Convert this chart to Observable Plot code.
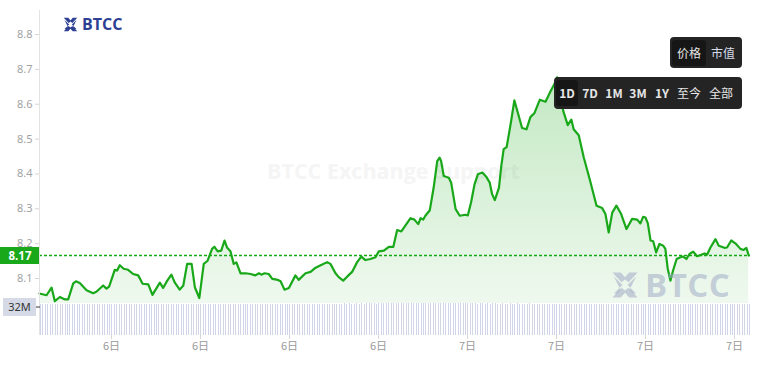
<!DOCTYPE html>
<html>
<head>
<meta charset="utf-8">
<script src="https://cdn.jsdelivr.net/npm/d3@7"></script>
<script src="https://cdn.jsdelivr.net/npm/@observablehq/plot@0.6"></script>
<style>
  html, body { margin: 0; padding: 0; background: #fff; }
  #wrap { position: relative; width: 764px; height: 368px; overflow: hidden; font-family: "Noto Sans", "Noto Sans CJK SC", sans-serif; }
  #wrap svg.layer { position: absolute; left: 0; top: 0; }
  .wm { position: absolute; left: 267px; top: 156px; font: bold 21.5px "Open Sans", sans-serif; color: #f5f5f5; white-space: nowrap; }
  .box { position: absolute; background: #242424; border-radius: 4px; display: flex; align-items: center; padding: 0 2px; box-sizing: border-box; }
  .box span { display: inline-block; color: #e6e6e6; font-size: 12px; text-align: center; line-height: 26px; border-radius: 3px; font-family: "Noto Sans CJK SC", "Noto Sans", sans-serif; }
  .box span.on { background: #161616; }
  .logo { position: absolute; display: flex; align-items: center; font-family: "Open Sans", sans-serif; font-weight: 700; }
</style>
</head>
<body>
<div id="wrap">
  <div class="wm">BTCC Exchange Support</div>
</div>
<script>
// ---- data (hours since 6日 00:00, price) ----
const hours = [9.57,9.81,9.98,10.09,10.26,10.43,10.54,10.71,10.80,10.93,11.16,11.27,11.38,11.49,11.72,11.83,11.92,12.11,12.19,12.28,12.41,12.56,12.73,12.90,13.05,13.24,13.38,13.63,13.74,13.88,14.02,14.13,14.30,14.42,14.55,14.70,14.81,14.96,15.11,15.24,15.39,15.47,15.58,15.70,15.81,15.90,16.01,16.12,16.21,16.35,16.52,16.69,16.85,16.97,17.05,17.16,17.30,17.42,17.61,17.70,17.83,17.98,18.20,18.31,18.54,18.71,18.88,19.05,19.27,19.38,19.55,19.66,19.81,19.95,20.11,20.28,20.42,20.56,20.73,20.90,21.01,21.18,21.35,21.50,21.63,21.77,21.94,22.08,22.21,22.34,22.42,22.51,22.58,22.73,22.86,22.98,23.06,23.11,23.20,23.37,23.45,23.60,23.74,23.93,24.01,24.12,24.24,24.35,24.50,24.64,24.75,24.83,24.92,25.06,25.14,25.22,25.32,25.47,25.58,25.70,25.84,25.99,26.12,26.26,26.44,26.63,26.80,26.93,27.02,27.23,27.38,27.50,27.58,27.75,27.92,28.12,28.35,28.54,28.65,28.76,28.88,29.02,29.18,29.36,29.55,29.72,29.83,29.92,30.00,30.08,30.17,30.26,30.36,30.47,30.60,30.67,30.75,30.84,30.93,31.05,31.18,31.27,31.38,31.49,31.61,31.74,31.88,31.99,32.08,32.19,32.36,32.47,32.66,32.75,32.89,33.03,33.20,33.31,33.40,33.48];
const prices = [8.057,8.052,8.074,8.035,8.047,8.040,8.040,8.086,8.092,8.087,8.066,8.062,8.058,8.062,8.080,8.071,8.077,8.125,8.123,8.138,8.128,8.125,8.113,8.109,8.085,8.083,8.053,8.088,8.073,8.094,8.111,8.089,8.068,8.080,8.142,8.142,8.075,8.044,8.142,8.151,8.185,8.191,8.178,8.180,8.209,8.188,8.178,8.142,8.146,8.115,8.115,8.113,8.109,8.115,8.111,8.115,8.113,8.099,8.096,8.092,8.068,8.073,8.109,8.096,8.115,8.119,8.131,8.138,8.147,8.142,8.115,8.104,8.094,8.106,8.119,8.147,8.163,8.153,8.156,8.161,8.178,8.180,8.191,8.191,8.239,8.235,8.256,8.273,8.269,8.256,8.273,8.269,8.280,8.296,8.361,8.437,8.447,8.437,8.394,8.389,8.375,8.299,8.280,8.283,8.281,8.318,8.371,8.399,8.404,8.391,8.375,8.342,8.325,8.360,8.423,8.471,8.477,8.551,8.611,8.575,8.532,8.528,8.563,8.575,8.613,8.607,8.637,8.658,8.677,8.580,8.540,8.556,8.528,8.511,8.447,8.385,8.309,8.302,8.285,8.232,8.289,8.309,8.285,8.242,8.271,8.269,8.258,8.277,8.275,8.258,8.209,8.207,8.175,8.199,8.194,8.185,8.128,8.094,8.123,8.156,8.161,8.163,8.156,8.171,8.177,8.164,8.168,8.172,8.169,8.189,8.213,8.194,8.188,8.189,8.209,8.201,8.185,8.182,8.188,8.166];
// 5-minute volumes (millions)
const volumes = [
35.2,35.4,35.1,35.6,35.3,35.0,35.5,35.2,35.4,35.6,35.1,35.3,
35.0,35.4,35.2,35.5,35.3,35.1,35.6,35.2,35.0,35.4,35.3,35.5,
35.2,35.1,35.4,35.6,35.3,35.2,35.0,35.4,35.5,35.1,35.3,35.2,
35.4,35.6,35.2,35.1,35.3,35.5,35.0,35.2,35.4,35.3,35.6,35.1,
35.3,35.2,35.5,35.4,35.1,35.0,35.3,35.6,35.2,35.4,35.1,35.3,
35.5,35.2,35.0,35.3,35.4,35.6,35.1,35.2,35.5,35.3,35.4,35.2,
35.1,35.3,35.6,35.4,35.2,35.0,35.5,35.3,35.1,35.4,35.2,35.6,
35.3,35.5,35.2,35.1,35.4,35.3,35.0,35.6,35.2,35.5,35.3,35.4,
35.2,35.4,35.1,35.3,35.6,35.5,35.2,35.0,35.4,35.3,35.1,35.5,
35.6,35.3,35.4,35.2,35.1,35.5,35.3,35.6,35.2,35.4,35.0,35.3,
35.8,36.0,35.7,36.1,35.9,36.2,35.8,36.0,36.3,35.9,36.1,36.0,
36.2,36.4,36.1,36.3,36.0,36.5,36.2,36.4,36.1,36.3,36.5,36.2,
36.4,36.3,36.5,36.2,36.6,36.4,36.3,36.5,36.1,36.4,36.6,36.3,
36.5,36.2,36.4,36.6,36.3,36.5,36.2,36.4,36.6,36.3,36.1,36.4,
36.3,36.5,36.2,36.4,36.1,36.3,36.5,36.2,36.4,36.0,36.3,36.1,
36.0,36.2,35.9,36.1,36.3,36.0,35.8,36.2,36.0,35.9,36.1,35.8,
35.9,36.1,35.8,36.0,35.7,35.9,36.1,35.8,36.0,35.9,35.7,36.0,
35.8,35.6,35.9,35.7,36.0,35.8,35.6,35.9,35.7,35.8,36.0,35.6,
35.7,35.9,35.6,35.8,35.5,35.7,35.9,35.6,35.8,35.7,35.5,35.8,
35.6,35.8,35.5,35.7,35.9,35.6,35.4,35.7,35.6,35.8,35.5,35.7,
35.5,35.7,35.4,35.6,35.8,35.5,35.3,35.6,35.5,35.7,35.4,35.6,
35.4,35.6,35.3,35.5,35.7,35.4,35.2,35.5,35.4,35.6,35.3,35.5,
35.3,35.5,35.2,35.4,35.6,35.3,35.1,35.4,35.3,35.5,35.2,35.4,
35.2,35.4,35.1,35.3,35.5,35.2,35.0,35.3,35.2,35.4,35.1,35.3
];
const tickHours = [12, 15, 18, 21, 24, 27, 30, 33];
const tickLabels = ["6日","6日","6日","6日","7日","7日","7日","7日"];
const priceTicks = [8.1, 8.2, 8.3, 8.4, 8.5, 8.6, 8.7, 8.8];
const lastPrice = prices[prices.length - 1];
const volumeTickValue = 32;
const volumeTickLabel = "32M";
const rangeButtons = ["1D","7D","1M","3M","1Y","至今","全部"];
const modeButtons = ["价格","市值"];

const startHour = 9.573, endHour = 33.54, firstVolHour = 9.6;
const yMin = 8.0283, yMax = 8.8689;
const n = Math.min(hours.length, prices.length);
const series = d3.range(n).map(i => ({t: hours[i], p: prices[i]}));
const vols = volumes.map((v, i) => ({t: firstVolHour + i / 12, v}));

const GREEN = "#19a819";
const W = 764, H = 368;
const xScale = {domain: [startHour, endHour], range: [39, 750]};

const wrap = document.getElementById("wrap");

// --- volume layer (bottom) ---
const vplot = Plot.plot({
  width: W, height: H,
  marginTop: 10, marginBottom: 33, marginLeft: 39, marginRight: 14,
  style: {background: "transparent", fontFamily: "'Noto Sans CJK SC', 'Noto Sans', sans-serif", fontSize: "11px", color: "#9a9a9a"},
  x: xScale,
  y: {domain: [0, 36.6], range: [335, 303]},
  marks: [
    Plot.ruleX(vols, {x: "t", y1: 0, y2: "v", stroke: "#d0d5e7", strokeWidth: 1, shapeRendering: "crispEdges"}),
    Plot.axisX({ticks: tickHours, tickFormat: (d, i) => tickLabels[i], tickSize: 4, tickPadding: 3, stroke: "#d8d8d8", fill: "#9a9a9a", anchor: "bottom", label: null}),
    Plot.axisY({ticks: [], tickSize: 0, anchor: "left", label: null})
  ]
});
vplot.classList.add("layer");
wrap.appendChild(vplot);

// --- price layer ---
const gradient = () => {
  const defs = d3.create("svg:defs");
  const g = defs.append("linearGradient").attr("id", "pgrad")
    .attr("x1", 0).attr("x2", 0).attr("y1", 0).attr("y2", 1);
  g.append("stop").attr("offset", "0%").attr("stop-color", GREEN).attr("stop-opacity", 0.26);
  g.append("stop").attr("offset", "100%").attr("stop-color", GREEN).attr("stop-opacity", 0.07);
  return defs.node();
};

const plot = Plot.plot({
  width: W, height: H,
  marginTop: 10, marginBottom: 33, marginLeft: 39, marginRight: 14,
  style: {background: "transparent", fontFamily: "'Noto Sans', sans-serif", fontSize: "11px", color: "#a0a0a0"},
  x: xScale,
  y: {domain: [yMin, yMax], range: [303, 10]},
  marks: [
    gradient,
    Plot.areaY(series, {x: "t", y1: () => yMin, y2: "p", fill: "url(#pgrad)"}),
    Plot.ruleY([lastPrice], {stroke: "#14a814", strokeWidth: 1.4, strokeDasharray: "3,2"}),
    Plot.line(series, {x: "t", y: "p", stroke: GREEN, strokeWidth: 2.2, strokeLinejoin: "round"}),
    Plot.ruleX([startHour], {stroke: "#e3e3e3", strokeWidth: 1}),
    Plot.axisY({ticks: priceTicks, tickFormat: d => d.toFixed(1), tickSize: 4, tickPadding: 3, stroke: "#d6d6d6", fill: "#a3a3a3", anchor: "left", label: null}),
    Plot.axisX({ticks: [], tickSize: 0, label: null})
  ]
});
plot.classList.add("layer");
wrap.appendChild(plot);

// price / volume labels placed with the plots' scales
const ys = plot.scale("y");
const yv = vplot.scale("y");
const lab = d3.select(plot).append("g");
const yp = ys.apply(lastPrice);
lab.append("rect").attr("x", 0).attr("y", yp - 8).attr("width", 39).attr("height", 17).attr("fill", GREEN);
lab.append("text").attr("x", 20).attr("y", yp + 0.5).attr("dy", "0.35em").attr("text-anchor", "middle")
  .attr("fill", "#fff").attr("font-weight", "bold").attr("font-size", 11.5).attr("font-family", "'Noto Sans', sans-serif").text(lastPrice.toFixed(2));
const yvol = yv.apply(volumeTickValue);
lab.append("rect").attr("x", 3).attr("y", yvol - 9).attr("width", 33).attr("height", 18).attr("fill", "#d6dae6");
lab.append("text").attr("x", 19.5).attr("y", yvol).attr("dy", "0.35em").attr("text-anchor", "middle")
  .attr("fill", "#333").attr("font-size", 11).attr("font-family", "'Noto Sans', sans-serif").text(volumeTickLabel);
lab.append("line").attr("x1", 36).attr("x2", 40).attr("y1", yvol).attr("y2", yvol).attr("stroke", "#333");

// logos
function logoIcon(size, color) {
  const s = d3.create("svg").attr("width", size).attr("height", size).attr("viewBox", "0 0 20 20");
  const g = s.append("g").attr("fill", color);
  g.append("path").attr("d", "M1 1 L7 1 L10 4.5 L13 1 L19 1 L12.5 8 L10 6 L7.5 8 Z");
  g.append("path").attr("d", "M1 19 L7 19 L10 15.5 L13 19 L19 19 L12.5 12 L10 14 L7.5 12 Z");
  g.append("path").attr("d", "M2 4 L8.2 10 L2 16 L4.5 16 L6.8 13.5 Z");
  g.append("path").attr("d", "M18 4 L11.8 10 L18 16 L15.5 16 L13.2 13.5 Z");
  return s.node();
}
const l1 = document.createElement("div");
l1.className = "logo";
l1.style.cssText = "left:63px;top:13px;color:#2d3f92;font-size:16px;gap:4px;";
l1.appendChild(logoIcon(15, "#2d3f92"));
l1.appendChild(Object.assign(document.createElement("span"), {textContent: "BTCC"}));
wrap.appendChild(l1);

const l2 = document.createElement("div");
l2.className = "logo";
l2.style.cssText = "left:611px;top:262px;color:rgba(160,170,198,0.55);font-size:33px;gap:6px;letter-spacing:0.5px;";
l2.appendChild(logoIcon(28, "rgba(160,170,198,0.55)"));
l2.appendChild(Object.assign(document.createElement("span"), {textContent: "BTCC"}));
wrap.appendChild(l2);

// control buttons
const b1 = document.createElement("div");
b1.className = "box";
b1.style.cssText = "left:670px;top:37px;width:72px;height:31px;";
modeButtons.forEach((t, i) => {
  const sp = document.createElement("span");
  sp.textContent = t; sp.style.width = "34px";
  if (i === 0) sp.className = "on"; else sp.style.color = "#d5dceb";
  b1.appendChild(sp);
});
wrap.appendChild(b1);

const b2 = document.createElement("div");
b2.className = "box";
b2.style.cssText = "left:554px;top:77px;width:188px;height:32px;";
const widths = [22, 24, 24, 24, 24, 30, 34];
rangeButtons.forEach((t, i) => {
  const sp = document.createElement("span");
  sp.textContent = t; sp.style.width = widths[i] + "px";
  sp.style.fontWeight = i < 5 ? "600" : "400";
  if (i === 0) sp.className = "on";
  b2.appendChild(sp);
});
wrap.appendChild(b2);
</script>
</body>
</html>
